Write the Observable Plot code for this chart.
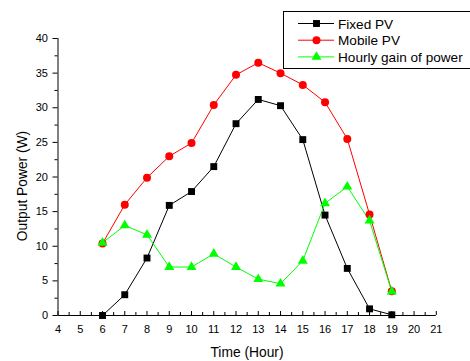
<!DOCTYPE html>
<html>
<head>
<meta charset="utf-8">
<script src="https://cdn.jsdelivr.net/npm/d3@7"></script>
<script src="https://cdn.jsdelivr.net/npm/@observablehq/plot@0.6"></script>
<style>
  html, body { margin: 0; padding: 0; background: #fff; overflow: hidden; }
  #chart { width: 470px; height: 361px; overflow: hidden; }
  svg { font-family: "Liberation Sans", Arial, sans-serif; }
</style>
</head>
<body>
<div id="chart"></div>
<script>
const hours = [6, 7, 8, 9, 10, 11, 12, 13, 14, 15, 16, 17, 18, 19];
const fixedPV = [0, 3, 8.3, 15.9, 17.9, 21.5, 27.7, 31.2, 30.3, 25.4, 14.5, 6.8, 0.96, 0.1];
const mobilePV = [10.4, 16.0, 19.9, 23.0, 24.9, 30.4, 34.75, 36.5, 35.0, 33.3, 30.8, 25.5, 14.6, 3.5];
const hourlyGain = [10.5, 13.0, 11.65, 7.0, 7.0, 8.9, 7.0, 5.25, 4.6, 7.9, 16.2, 18.6, 13.7, 3.45];
const seriesNames = ["Fixed PV", "Mobile PV", "Hourly gain of power"];
const seriesColors = ["#000000", "#ff0000", "#00ff00"];
const seriesSymbols = ["square", "circle", "triangle"];
const xMajor = d3.range(4, 22, 1);
const xMinor = d3.range(4.5, 21, 1);
const yMajor = [0, 5, 10, 15, 20, 25, 30, 35, 40];
const yMinor = [2.5, 7.5, 12.5, 17.5, 22.5, 27.5, 32.5, 37.5];

const seriesValues = [fixedPV, mobilePV, hourlyGain];
const data = seriesValues.map((vals, s) => hours.map((h, i) => ({x: h, y: vals[i], s})));

const marks = [
  Plot.ruleY([0], {stroke: "#000", strokeWidth: 1}),
  Plot.ruleX([4], {stroke: "#000", strokeWidth: 1}),
  Plot.ruleX(xMajor, {y1: 0, y2: 0, insetTop: -4, stroke: "#000"}),
  Plot.ruleX(xMinor, {y1: 0, y2: 0, insetTop: -3, stroke: "#000"}),
  Plot.ruleY(yMajor, {x1: 4, x2: 4, insetLeft: -5, stroke: "#000"}),
  Plot.ruleY(yMinor, {x1: 4, x2: 4, insetLeft: -3, stroke: "#000"}),
  Plot.axisX({ticks: xMajor, tickSize: 0, tickPadding: 10, fontSize: 11, label: null, tickFormat: d => d}),
  Plot.axisY({ticks: yMajor, tickSize: 0, tickPadding: 10, fontSize: 11, label: null, tickFormat: d => d})
];
data.forEach((d, s) => {
  marks.push(Plot.line(d, {x: "x", y: "y", stroke: seriesColors[s], strokeWidth: 1}));
});
data.forEach((d, s) => {
  marks.push(Plot.dot(d, {x: "x", y: "y", symbol: seriesSymbols[s], fill: seriesColors[s], stroke: "none",
    r: s === 0 ? 3.9 : s === 1 ? 4 : 3.7}));
});

const chart = Plot.plot({
  width: 470,
  height: 361,
  marginLeft: 57.5,
  marginRight: 34.2,
  marginTop: 38,
  marginBottom: 46,
  style: {fontFamily: "'Liberation Sans', Arial, sans-serif", color: "#000", background: "#fff"},
  x: {domain: [4, 21]},
  y: {domain: [0, 40]},
  marks
});
document.getElementById("chart").appendChild(chart);

const svg = d3.select(chart);
svg.append("text")
  .attr("transform", "translate(26.5,186) rotate(-90)")
  .attr("text-anchor", "middle")
  .attr("font-size", 13.8)
  .attr("fill", "#000")
  .text("Output Power (W)");
svg.append("text")
  .attr("x", 247).attr("y", 357)
  .attr("text-anchor", "middle")
  .attr("font-size", 13.8)
  .attr("fill", "#000")
  .text("Time (Hour)");

const lg = svg.append("g").attr("text-anchor", "start");
lg.append("rect").attr("x", 283.5).attr("y", 11.5).attr("width", 200).attr("height", 57)
  .attr("fill", "#fff").attr("stroke", "#000").attr("stroke-width", 1);
seriesNames.forEach((name, i) => {
  const cy = 23.5 + i * 16.7;
  lg.append("line").attr("x1", 298).attr("x2", 334).attr("y1", cy).attr("y2", cy)
    .attr("stroke", seriesColors[i]).attr("stroke-width", 1);
  const sym = seriesSymbols[i] === "square" ? d3.symbolSquare : seriesSymbols[i] === "circle" ? d3.symbolCircle : d3.symbolTriangle;
  const r = i === 0 ? 3.9 : i === 1 ? 4 : 3.7;
  lg.append("path").attr("d", d3.symbol(sym, Math.PI * r * r)())
    .attr("transform", `translate(316.5,${cy})`).attr("fill", seriesColors[i]);
  lg.append("text").attr("x", 338).attr("y", cy + 5).attr("text-anchor", "start")
    .attr("font-size", 13.6).attr("fill", "#000").text(name);
});
</script>
</body>
</html>
